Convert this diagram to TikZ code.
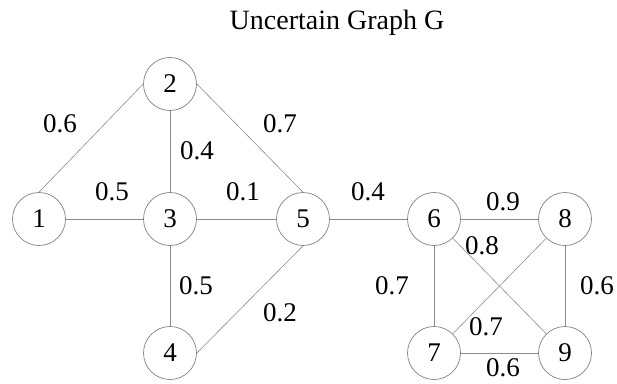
\documentclass[tikz,border=0pt]{standalone}
\usepackage{fontspec}
\setmainfont{Liberation Serif}
\begin{document}
\begin{tikzpicture}[x=1pt,y=-1pt,
    vtx/.style={circle, draw=gray, line width=0.7pt, minimum size=53pt, inner sep=0pt, font=\fontsize{27}{27}\selectfont},
    lbl/.style={inner sep=0pt, font=\fontsize{27}{27}\selectfont},
    ln/.style={gray!90, line width=0.6pt}]
    \useasboundingbox (0,0) rectangle (617,383);
    \node[lbl, anchor=base, font=\fontsize{28}{28}\selectfont] (T) at (337,29) {Uncertain Graph G};
    \node[vtx] (V1) at (39,219) {1};
    \node[vtx] (V2) at (170,84) {2};
    \node[vtx] (V3) at (170,219) {3};
    \node[vtx] (V4) at (170,353) {4};
    \node[vtx] (V5) at (303,219) {5};
    \node[vtx] (V6) at (434,219) {6};
    \node[vtx] (V7) at (434,353) {7};
    \node[vtx] (V8) at (565,219) {8};
    \node[vtx] (V9) at (565,353) {9};
    \draw[ln] (V2.west) edge (V1.north);
    \draw[ln] (V2) edge (V3);
    \draw[ln] (V2.east) edge (V5.north);
    \draw[ln] (V1) edge (V3);
    \draw[ln] (V3) edge (V5);
    \draw[ln] (V3) edge (V4);
    \draw[ln] (V5.south) edge (V4.east);
    \draw[ln] (V5) edge (V6);
    \draw[ln] (V6) edge (V8);
    \draw[ln] (V6) edge (V7);
    \draw[ln] (V6) edge (V9);
    \draw[ln] (V8) edge (V7);
    \draw[ln] (V8) edge (V9);
    \draw[ln] (V7) edge (V9);
    \node[lbl] (L12) at (60,124) {0.6};
    \node[lbl] (L25) at (280,124) {0.7};
    \node[lbl] (L23) at (197,151) {0.4};
    \node[lbl] (L13) at (112,192) {0.5};
    \node[lbl] (L35) at (243,192) {0.1};
    \node[lbl] (L34) at (196,286) {0.5};
    \node[lbl] (L45) at (280,313) {0.2};
    \node[lbl] (L56) at (368,192) {0.4};
    \node[lbl] (L68) at (503,202) {0.9};
    \node[lbl] (L69) at (482,246) {0.8};
    \node[lbl] (L67) at (392,286) {0.7};
    \node[lbl] (L89) at (597,286) {0.6};
    \node[lbl] (L78) at (486,327) {0.7};
    \node[lbl] (L79) at (503,368) {0.6};
\end{tikzpicture}
\end{document}
